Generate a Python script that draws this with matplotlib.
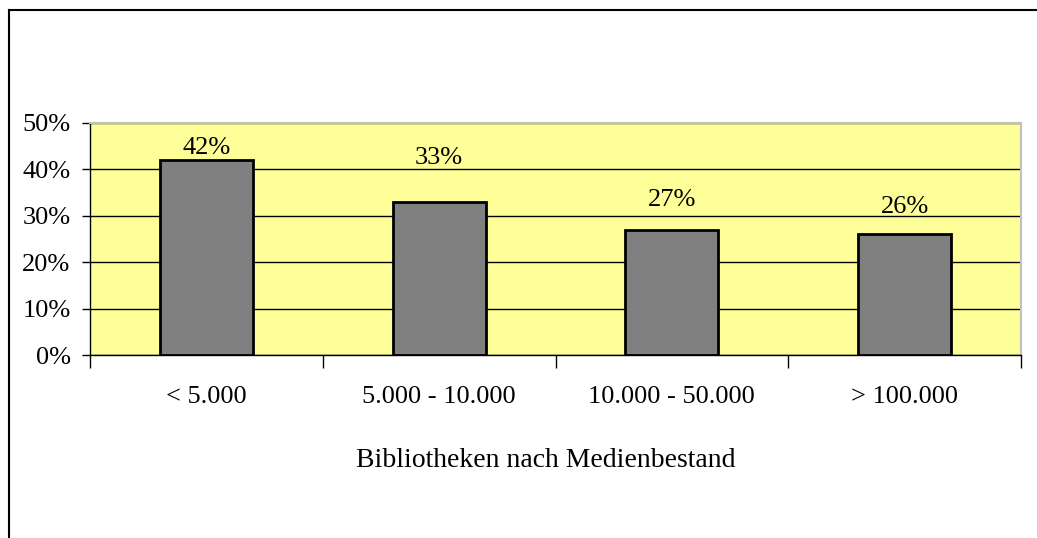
import matplotlib.pyplot as plt
from matplotlib.lines import Line2D
from matplotlib.ticker import FuncFormatter

# Bibliotheken nach Medienbestand
categories = ['< 5.000', '5.000 - 10.000', '10.000 - 50.000', '> 100.000']
shares = [42, 33, 27, 26]

# label offsets above bar tops (pixels), as placed in the original
label_offsets = [12, 44, 30, 27]

plt.rcParams['font.family'] = ['Liberation Serif', 'DejaVu Serif']
FS = 19

fig = plt.figure(figsize=(10.37, 5.38), dpi=100)
ax = fig.add_axes([90 / 1037, 1 - 355 / 538, (1021 - 90) / 1037, (355 - 123) / 538])

ax.set_facecolor('#FFFF99')
x = range(len(categories))
bars = ax.bar(x, shares, width=0.4, color='#808080', edgecolor='black', linewidth=2, zorder=3)

for bar, val, off in zip(bars, shares, label_offsets):
    ax.annotate(f'{val}%', (bar.get_x() + bar.get_width() / 2, val),
                xytext=(0, off * 0.72), textcoords='offset points',
                ha='center', va='center', fontsize=FS, zorder=4)

ax.set_xlim(-0.5, len(categories) - 0.5)
ax.set_ylim(0, 50)
ax.set_yticks(range(0, 51, 10))
ax.yaxis.set_major_formatter(FuncFormatter(lambda v, p: f'{v:.0f}%'))
ax.grid(axis='y', color='black', linewidth=1, zorder=1)

# category ticks sit between the groups
ax.set_xticks([i - 0.5 for i in range(len(categories) + 1)])
ax.set_xticklabels([])
ax.set_xticks(list(x), minor=True)
ax.set_xticklabels(categories, minor=True, fontsize=FS)
ax.tick_params(axis='x', which='major', direction='out', length=9, color='black', width=1)
ax.tick_params(axis='x', which='minor', length=0, pad=22)
ax.tick_params(axis='y', direction='out', length=6, width=1, labelsize=FS, pad=8)

for side in ['top', 'right']:
    ax.spines[side].set_color('#C0C0C0')
    ax.spines[side].set_linewidth(1.5)
for side in ['left', 'bottom']:
    ax.spines[side].set_color('black')
    ax.spines[side].set_linewidth(1)

ax.set_xlabel('Bibliotheken nach Medienbestand', fontsize=20)
ax.xaxis.set_label_coords(0.49, -0.40)

# chart area border (top and left edges visible)
fig.add_artist(Line2D([9 / 1037, 1], [1 - 10 / 538, 1 - 10 / 538], transform=fig.transFigure,
                      color='black', linewidth=1.5))
fig.add_artist(Line2D([9 / 1037, 9 / 1037], [0, 1 - 10 / 538], transform=fig.transFigure,
                      color='black', linewidth=1.5))

fig.savefig('out.png', dpi=100)
